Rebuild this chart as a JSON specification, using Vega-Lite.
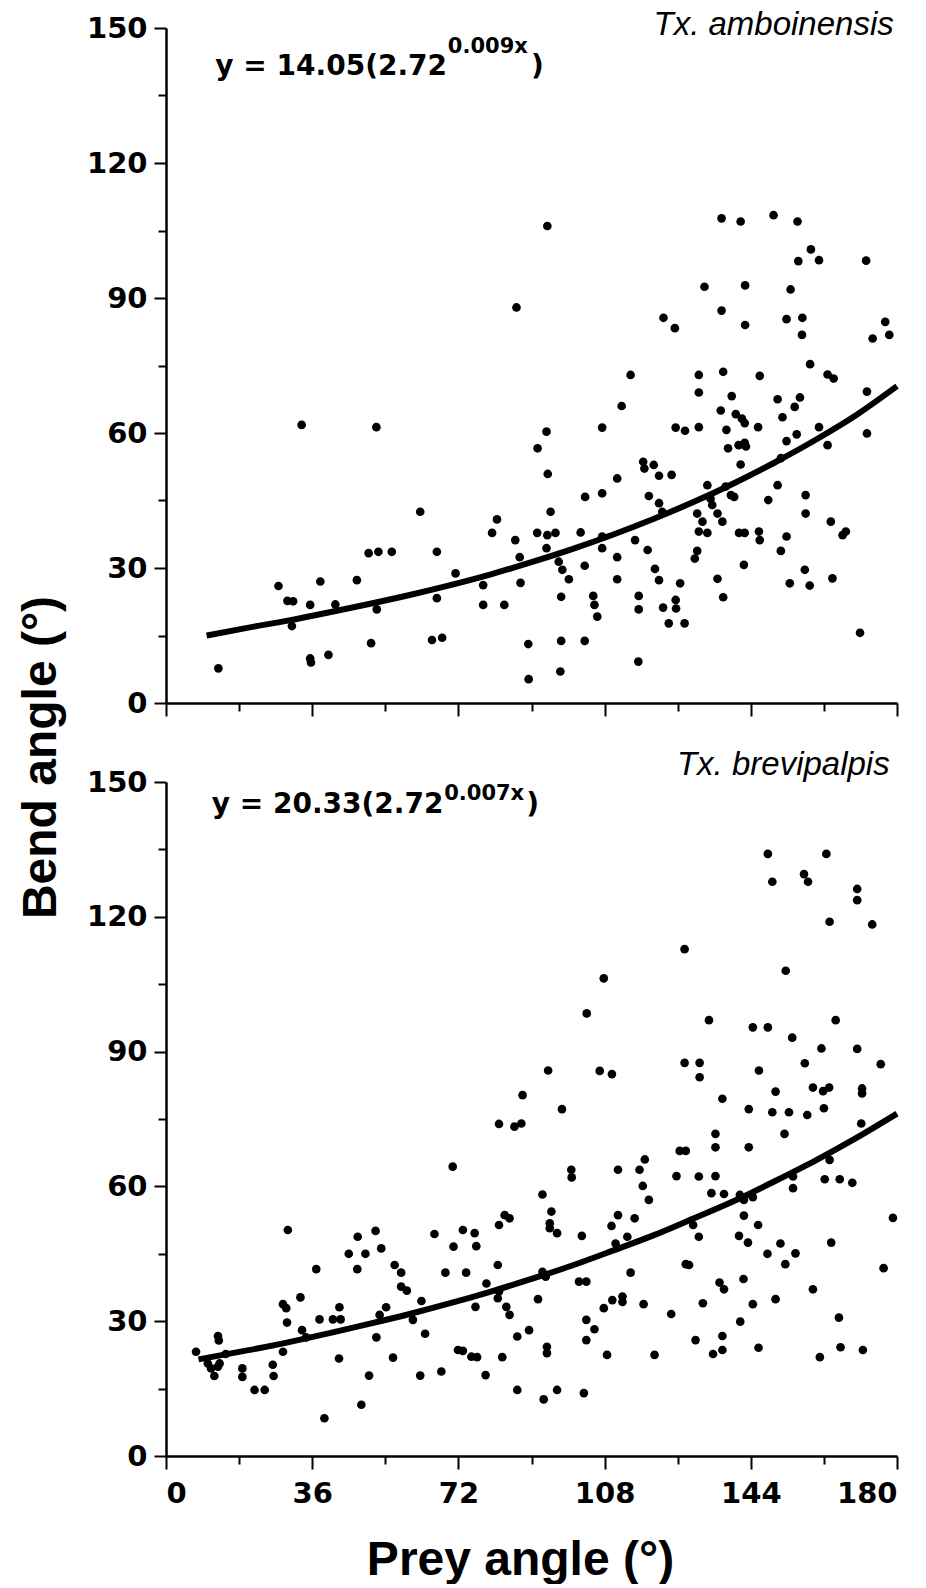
{
  "$schema": "https://vega.github.io/schema/vega-lite/v6.json",
  "background": "white",
  "padding": {"left": 17, "top": 9, "right": 0, "bottom": 0},
  "bounds": "flush",
  "spacing": 79,
  "datasets": {
    "amb": [
      {"x":33.4,"y":61.8},{"x":51.8,"y":61.3},{"x":62.6,"y":42.5},{"x":49.9,"y":33.3},{"x":52.3,"y":33.6},{"x":55.6,"y":33.6},{"x":66.7,"y":33.6},{"x":71.3,"y":28.8},{"x":27.7,"y":26.0},{"x":38.0,"y":27.0},{"x":47.0,"y":27.3},{"x":29.9,"y":22.7},{"x":31.3,"y":22.6},{"x":35.5,"y":21.8},{"x":41.7,"y":21.9},{"x":31.0,"y":17.1},{"x":51.9,"y":20.8},{"x":66.7,"y":23.3},{"x":65.5,"y":14.0},{"x":68.0,"y":14.5},{"x":50.5,"y":13.3},{"x":35.5,"y":9.9},{"x":35.7,"y":9.0},{"x":40.0,"y":10.7},{"x":12.9,"y":7.7},
      {"x":93.9,"y":106.0},{"x":86.3,"y":87.9},{"x":136.8,"y":107.7},{"x":141.5,"y":107.0},{"x":149.6,"y":108.4},{"x":155.5,"y":107.0},{"x":158.8,"y":100.8},{"x":155.7,"y":98.2},{"x":160.8,"y":98.4},{"x":172.4,"y":98.3},{"x":132.6,"y":92.5},{"x":142.6,"y":92.8},{"x":153.8,"y":91.9},{"x":136.8,"y":87.2},{"x":122.5,"y":85.6},{"x":125.3,"y":83.3},{"x":142.6,"y":84.0},{"x":152.8,"y":85.3},{"x":156.7,"y":85.6},{"x":156.6,"y":81.8},{"x":177.1,"y":84.7},{"x":174.0,"y":81.0},{"x":178.1,"y":81.8},
      {"x":114.4,"y":72.9},{"x":131.2,"y":72.9},{"x":137.2,"y":73.6},{"x":146.2,"y":72.7},{"x":158.6,"y":75.3},{"x":162.9,"y":73.0},{"x":164.4,"y":72.1},{"x":172.6,"y":69.2},{"x":131.2,"y":69.0},{"x":139.3,"y":68.2},{"x":112.2,"y":66.0},{"x":136.6,"y":65.0},{"x":140.3,"y":64.2},{"x":141.8,"y":63.2},{"x":142.5,"y":62.2},{"x":150.6,"y":67.5},{"x":156.1,"y":67.9},{"x":154.8,"y":65.8},{"x":151.8,"y":63.5},{"x":145.8,"y":61.3},{"x":138.0,"y":60.7},{"x":131.2,"y":61.3},{"x":125.5,"y":61.2},{"x":127.8,"y":60.5},{"x":107.4,"y":61.2},{"x":93.7,"y":60.3},{"x":91.5,"y":56.6},{"x":94.0,"y":50.9},{"x":160.8,"y":61.3},{"x":155.3,"y":59.7},{"x":152.8,"y":58.2},{"x":162.9,"y":57.3},{"x":172.6,"y":59.9},{"x":138.4,"y":56.6},{"x":141.0,"y":57.3},{"x":142.5,"y":57.8},{"x":142.8,"y":57.0},{"x":141.5,"y":53.0},{"x":151.4,"y":54.4},{"x":117.5,"y":53.6},{"x":117.8,"y":52.1},{"x":120.1,"y":52.9},{"x":121.4,"y":50.5},{"x":124.5,"y":50.7},{"x":111.1,"y":49.9},{"x":103.2,"y":45.8},{"x":107.4,"y":46.6},{"x":118.9,"y":46.0},{"x":121.4,"y":44.4},{"x":122.2,"y":42.5},{"x":133.3,"y":48.4},{"x":137.8,"y":48.1},{"x":139.1,"y":46.2},{"x":139.9,"y":45.8},{"x":134.1,"y":45.4},{"x":134.5,"y":44.0},{"x":135.8,"y":42.1},{"x":137.0,"y":40.3},{"x":130.8,"y":42.1},{"x":132.1,"y":40.3},{"x":131.2,"y":38.1},{"x":133.3,"y":37.8},{"x":130.8,"y":33.8},{"x":130.2,"y":32.1},{"x":150.6,"y":48.4},{"x":148.3,"y":45.1},{"x":157.5,"y":46.2},{"x":157.5,"y":42.1},{"x":163.7,"y":40.3},{"x":166.6,"y":37.3},{"x":167.4,"y":38.1},{"x":141.1,"y":37.8},{"x":142.5,"y":37.8},{"x":146.0,"y":38.1},{"x":146.2,"y":36.2},{"x":152.8,"y":37.0},{"x":151.4,"y":33.8},{"x":142.3,"y":30.7},{"x":157.3,"y":29.6},{"x":158.5,"y":26.1},{"x":153.6,"y":26.6},{"x":164.1,"y":27.7},{"x":135.8,"y":27.6},{"x":137.2,"y":23.5},{"x":170.9,"y":15.6},{"x":115.5,"y":36.2},{"x":118.6,"y":34.0},{"x":120.4,"y":29.8},{"x":121.4,"y":27.3},{"x":126.6,"y":26.6},{"x":125.5,"y":22.9},{"x":125.6,"y":21.0},{"x":122.4,"y":21.2},{"x":123.8,"y":17.7},{"x":127.7,"y":17.7},{"x":116.4,"y":23.8},{"x":116.4,"y":20.8},{"x":116.3,"y":9.2},{"x":111.1,"y":32.4},{"x":111.1,"y":27.5},{"x":107.4,"y":37.0},{"x":107.4,"y":34.4},{"x":102.1,"y":37.9},{"x":103.1,"y":30.5},{"x":105.2,"y":23.8},{"x":105.5,"y":21.8},{"x":106.2,"y":19.2},{"x":103.1,"y":13.8},{"x":97.3,"y":13.8},{"x":97.1,"y":7.0},{"x":89.2,"y":13.1},{"x":89.3,"y":5.3},{"x":97.3,"y":23.6},{"x":99.2,"y":27.5},{"x":96.7,"y":31.4},{"x":97.6,"y":29.6},{"x":94.7,"y":42.5},{"x":91.4,"y":37.8},{"x":93.9,"y":37.3},{"x":95.9,"y":37.8},{"x":93.7,"y":34.4},{"x":87.1,"y":32.4},{"x":87.3,"y":26.7},{"x":86.0,"y":36.2},{"x":80.3,"y":37.8},{"x":81.5,"y":40.8},{"x":78.1,"y":26.2},{"x":78.1,"y":21.8},{"x":83.3,"y":21.8}
    ],
    "ambfit": [
      {"x":10,"y":15.0},{"x":20,"y":16.7},{"x":30,"y":18.3},{"x":40,"y":20.1},{"x":50,"y":22.0},{"x":60,"y":24.0},{"x":70,"y":26.2},{"x":80,"y":28.6},{"x":90,"y":31.3},{"x":100,"y":34.2},{"x":110,"y":37.4},{"x":120,"y":40.9},{"x":130,"y":44.7},{"x":140,"y":48.9},{"x":150,"y":53.5},{"x":160,"y":58.5},{"x":170,"y":64.0},{"x":180,"y":70.4}
    ],
    "brev": [
      {"x":148.2,"y":134.0},{"x":162.6,"y":134.0},{"x":149.3,"y":127.8},{"x":157.1,"y":129.5},{"x":158.1,"y":127.8},{"x":170.2,"y":126.2},{"x":170.2,"y":123.7},{"x":163.4,"y":118.9},{"x":173.9,"y":118.3},{"x":127.7,"y":112.8},{"x":152.6,"y":108.0},{"x":107.8,"y":106.3},{"x":103.6,"y":98.5},{"x":133.7,"y":97.0},{"x":144.5,"y":95.4},{"x":148.2,"y":95.4},{"x":154.2,"y":93.1},{"x":164.9,"y":97.0},{"x":161.4,"y":90.7},{"x":170.2,"y":90.6},{"x":176.0,"y":87.2},{"x":127.7,"y":87.5},{"x":131.4,"y":87.5},{"x":131.4,"y":84.3},{"x":146.0,"y":85.8},{"x":157.3,"y":87.4},{"x":94.1,"y":85.8},{"x":106.8,"y":85.7},{"x":109.8,"y":85.0},{"x":87.8,"y":80.3},{"x":97.5,"y":77.2},{"x":137.0,"y":79.5},{"x":143.5,"y":77.2},{"x":150.1,"y":81.1},{"x":149.3,"y":76.5},{"x":153.4,"y":76.5},{"x":157.9,"y":75.9},{"x":162.0,"y":77.4},{"x":159.3,"y":82.0},{"x":161.8,"y":81.2},{"x":163.3,"y":82.0},{"x":171.4,"y":81.8},{"x":171.4,"y":80.7},
      {"x":82.0,"y":73.9},{"x":85.8,"y":73.3},{"x":87.5,"y":74.0},{"x":171.2,"y":74.0},{"x":152.3,"y":71.7},{"x":135.3,"y":71.7},{"x":135.3,"y":68.7},{"x":143.5,"y":68.7},{"x":126.5,"y":67.9},{"x":128.0,"y":67.9},{"x":70.6,"y":64.4},{"x":99.8,"y":63.7},{"x":99.9,"y":62.0},{"x":111.3,"y":63.7},{"x":117.9,"y":66.0},{"x":116.6,"y":63.7},{"x":125.7,"y":62.3},{"x":131.2,"y":62.2},{"x":135.3,"y":62.3},{"x":162.2,"y":61.6},{"x":165.9,"y":61.6},{"x":169.0,"y":60.8},{"x":163.4,"y":65.9},{"x":154.4,"y":62.2},{"x":154.4,"y":59.6},{"x":117.4,"y":60.1},{"x":118.9,"y":57.0},{"x":134.3,"y":58.5},{"x":137.4,"y":58.3},{"x":141.3,"y":58.1},{"x":142.3,"y":57.0},{"x":144.5,"y":57.6},{"x":92.7,"y":58.2},{"x":142.3,"y":53.5},{"x":145.8,"y":51.4},{"x":179.0,"y":53.0},{"x":83.4,"y":53.6},{"x":84.6,"y":52.9},{"x":82.0,"y":51.4},{"x":94.9,"y":54.4},{"x":94.5,"y":51.8},{"x":94.5,"y":50.7},{"x":96.3,"y":49.6},{"x":102.4,"y":49.0},{"x":111.3,"y":53.6},{"x":109.7,"y":51.2},{"x":115.4,"y":52.9},{"x":113.6,"y":48.8},{"x":110.7,"y":47.3},{"x":73.1,"y":50.3},{"x":76.0,"y":49.6},{"x":76.4,"y":46.7},{"x":70.8,"y":46.6},{"x":129.8,"y":51.4},{"x":131.2,"y":48.8},{"x":141.1,"y":49.0},{"x":143.3,"y":47.5},{"x":151.3,"y":47.3},{"x":148.1,"y":45.0},{"x":155.0,"y":45.1},{"x":152.5,"y":42.7},{"x":163.8,"y":47.5},{"x":176.7,"y":41.8},{"x":128.0,"y":42.7},{"x":128.8,"y":42.5},{"x":81.7,"y":42.5},{"x":68.8,"y":40.8},{"x":73.9,"y":40.8},{"x":92.7,"y":41.0},{"x":93.5,"y":39.9},{"x":78.9,"y":38.4},{"x":82.0,"y":36.6},{"x":81.7,"y":35.1},{"x":101.7,"y":38.8},{"x":103.5,"y":38.8},{"x":114.4,"y":40.8},{"x":91.6,"y":34.9},{"x":76.2,"y":33.2},{"x":83.8,"y":33.2},{"x":84.6,"y":31.4},{"x":107.8,"y":32.9},{"x":109.9,"y":34.7},{"x":112.4,"y":35.5},{"x":112.4,"y":34.3},{"x":117.6,"y":33.8},{"x":124.4,"y":31.6},{"x":132.2,"y":34.0},{"x":136.3,"y":38.6},{"x":137.4,"y":37.1},{"x":142.2,"y":39.4},{"x":144.5,"y":33.8},{"x":150.1,"y":34.9},{"x":159.3,"y":37.1},{"x":165.7,"y":30.8},{"x":141.4,"y":29.9},{"x":103.5,"y":30.3},{"x":105.5,"y":28.2},{"x":103.5,"y":25.8},{"x":89.4,"y":28.0},{"x":86.5,"y":26.6},{"x":93.8,"y":24.3},{"x":93.8,"y":22.9},{"x":71.9,"y":23.6},{"x":73.1,"y":23.4},{"x":75.2,"y":22.1},{"x":76.6,"y":22.0},{"x":82.8,"y":22.0},{"x":78.7,"y":18.0},{"x":67.8,"y":18.8},{"x":86.5,"y":14.7},{"x":93.0,"y":12.6},{"x":96.3,"y":14.7},{"x":102.9,"y":14.0},{"x":108.6,"y":22.5},{"x":120.3,"y":22.5},{"x":130.4,"y":25.8},{"x":137.0,"y":26.7},{"x":137.0,"y":23.6},{"x":134.7,"y":22.7},{"x":145.9,"y":24.1},{"x":161.0,"y":22.0},{"x":166.1,"y":24.2},{"x":171.6,"y":23.6},
      {"x":30.0,"y":50.3},{"x":51.6,"y":50.1},{"x":66.1,"y":49.4},{"x":47.2,"y":48.8},{"x":53.0,"y":46.2},{"x":45.0,"y":45.0},{"x":49.1,"y":45.0},{"x":37.0,"y":41.6},{"x":47.1,"y":41.6},{"x":56.3,"y":42.5},{"x":57.9,"y":40.8},{"x":57.9,"y":37.7},{"x":59.3,"y":36.8},{"x":62.9,"y":34.5},{"x":28.8,"y":33.8},{"x":29.6,"y":32.9},{"x":33.1,"y":35.3},{"x":42.7,"y":33.1},{"x":43.0,"y":30.4},{"x":37.8,"y":30.4},{"x":41.1,"y":30.4},{"x":54.2,"y":33.1},{"x":52.6,"y":31.4},{"x":60.8,"y":30.3},{"x":29.8,"y":29.7},{"x":33.5,"y":28.0},{"x":63.8,"y":27.2},{"x":51.8,"y":26.4},{"x":34.5,"y":26.4},{"x":42.6,"y":21.7},{"x":55.9,"y":21.9},{"x":50.0,"y":17.9},{"x":62.6,"y":17.9},{"x":48.1,"y":11.4},{"x":39.0,"y":8.4},{"x":7.4,"y":23.2},{"x":10.3,"y":20.6},{"x":11.1,"y":19.5},{"x":11.9,"y":17.8},{"x":12.8,"y":19.9},{"x":13.2,"y":20.6},{"x":12.8,"y":26.7},{"x":13.0,"y":25.7},{"x":14.7,"y":22.7},{"x":18.8,"y":19.5},{"x":18.8,"y":17.6},{"x":21.8,"y":14.7},{"x":24.3,"y":14.7},{"x":26.3,"y":20.3},{"x":26.5,"y":17.8},{"x":28.8,"y":23.2}
    ],
    "brevfit": [
      {"x":8,"y":21.5},{"x":20,"y":23.5},{"x":30,"y":25.3},{"x":40,"y":27.3},{"x":50,"y":29.4},{"x":60,"y":31.6},{"x":70,"y":34.0},{"x":80,"y":36.6},{"x":90,"y":39.4},{"x":100,"y":42.4},{"x":110,"y":45.7},{"x":120,"y":49.1},{"x":130,"y":52.9},{"x":140,"y":56.8},{"x":150,"y":61.2},{"x":160,"y":65.8},{"x":170,"y":70.8},{"x":180,"y":76.2}
    ],
    "one": [{"n": 1}]
  },
  "vconcat": [
    {
      "width": 731,
      "height": 675,
      "layer": [
        {"data": {"name": "amb"}, "mark": {"type": "circle", "size": 75, "color": "black", "opacity": 1},
          "encoding": {
            "x": {"field": "x", "type": "quantitative", "scale": {"domain": [0, 180], "nice": false, "zero": false},
              "axis": {"title": null, "labels": false, "values": [0,18,36,54,72,90,108,126,144,162,180],
                "tickSize": {"condition": {"test": "datum.value % 36 === 0", "value": 13}, "value": 8}}},
            "y": {"field": "y", "type": "quantitative", "scale": {"domain": [0, 150], "nice": false, "zero": false},
              "axis": {"title": "Bend angle (°)", "values": [0,15,30,45,60,75,90,105,120,135,150],
                "labelExpr": "datum.value % 30 === 0 ? datum.label : ''",
                "tickSize": {"condition": {"test": "datum.value % 30 === 0", "value": 12}, "value": 8},
                "labelPadding": 7,
                "titleX": -111, "titleY": 729, "titleAngle": -90, "titleAlign": "center", "titleBaseline": "alphabetic"}}
          }},
        {"data": {"name": "ambfit"}, "mark": {"type": "line", "color": "black", "strokeWidth": 6, "interpolate": "monotone"},
          "encoding": {"x": {"field": "x", "type": "quantitative"}, "y": {"field": "y", "type": "quantitative"}}},
        {"data": {"name": "one"}, "mark": {"type": "text", "text": "y = 14.05(2.72", "align": "right", "baseline": "alphabetic", "font": "DejaVu Sans", "fontWeight": "bold", "fontSize": 28, "fill": "black"},
          "encoding": {"x": {"datum": 69.2, "type": "quantitative"}, "y": {"datum": 139.6, "type": "quantitative"}}},
        {"data": {"name": "one"}, "mark": {"type": "text", "text": "0.009x", "align": "left", "baseline": "alphabetic", "font": "DejaVu Sans", "fontWeight": "bold", "fontSize": 21, "fill": "black"},
          "encoding": {"x": {"datum": 69.4, "type": "quantitative"}, "y": {"datum": 144.4, "type": "quantitative"}}},
        {"data": {"name": "one"}, "mark": {"type": "text", "text": ")", "align": "left", "baseline": "alphabetic", "font": "DejaVu Sans", "fontWeight": "bold", "fontSize": 28, "fill": "black"},
          "encoding": {"x": {"datum": 89.9, "type": "quantitative"}, "y": {"datum": 139.6, "type": "quantitative"}}},
        {"data": {"name": "one"}, "mark": {"type": "text", "text": "Tx. amboinensis", "align": "right", "baseline": "alphabetic", "font": "Liberation Sans", "fontStyle": "italic", "fontSize": 33, "fill": "black"},
          "encoding": {"x": {"datum": 179.2, "type": "quantitative"}, "y": {"datum": 148.4, "type": "quantitative"}}}
      ]
    },
    {
      "width": 731,
      "height": 674,
      "layer": [
        {"data": {"name": "brev"}, "mark": {"type": "circle", "size": 75, "color": "black", "opacity": 1},
          "encoding": {
            "x": {"field": "x", "type": "quantitative", "scale": {"domain": [0, 180], "nice": false, "zero": false},
              "axis": {"title": "Prey angle (°)", "values": [0,18,36,54,72,90,108,126,144,162,180],
                "labelExpr": "datum.value % 36 === 0 ? datum.label : ''",
                "tickSize": {"condition": {"test": "datum.value % 36 === 0", "value": 13}, "value": 8},
                "labelPadding": 10,
                "titleX": 354, "titleY": 118, "titleAlign": "center", "titleBaseline": "alphabetic"}},
            "y": {"field": "y", "type": "quantitative", "scale": {"domain": [0, 150], "nice": false, "zero": false},
              "axis": {"title": null, "values": [0,15,30,45,60,75,90,105,120,135,150],
                "labelExpr": "datum.value % 30 === 0 ? datum.label : ''",
                "tickSize": {"condition": {"test": "datum.value % 30 === 0", "value": 12}, "value": 8},
                "labelPadding": 7}}
          }},
        {"data": {"name": "brevfit"}, "mark": {"type": "line", "color": "black", "strokeWidth": 6, "interpolate": "monotone"},
          "encoding": {"x": {"field": "x", "type": "quantitative"}, "y": {"field": "y", "type": "quantitative"}}},
        {"data": {"name": "one"}, "mark": {"type": "text", "text": "y = 20.33(2.72", "align": "right", "baseline": "alphabetic", "font": "DejaVu Sans", "fontWeight": "bold", "fontSize": 28, "fill": "black"},
          "encoding": {"x": {"datum": 68.3, "type": "quantitative"}, "y": {"datum": 143.1, "type": "quantitative"}}},
        {"data": {"name": "one"}, "mark": {"type": "text", "text": "0.007x", "align": "left", "baseline": "alphabetic", "font": "DejaVu Sans", "fontWeight": "bold", "fontSize": 21, "fill": "black"},
          "encoding": {"x": {"datum": 68.5, "type": "quantitative"}, "y": {"datum": 146.0, "type": "quantitative"}}},
        {"data": {"name": "one"}, "mark": {"type": "text", "text": ")", "align": "left", "baseline": "alphabetic", "font": "DejaVu Sans", "fontWeight": "bold", "fontSize": 28, "fill": "black"},
          "encoding": {"x": {"datum": 88.7, "type": "quantitative"}, "y": {"datum": 143.1, "type": "quantitative"}}},
        {"data": {"name": "one"}, "mark": {"type": "text", "text": "Tx. brevipalpis", "align": "right", "baseline": "alphabetic", "font": "Liberation Sans", "fontStyle": "italic", "fontSize": 33, "fill": "black"},
          "encoding": {"x": {"datum": 178.2, "type": "quantitative"}, "y": {"datum": 151.6, "type": "quantitative"}}}
      ]
    }
  ],
  "config": {
    "view": {"stroke": null},
    "axis": {
      "grid": false,
      "domainColor": "black", "domainWidth": 2.5,
      "tickColor": "black", "tickWidth": 2,
      "labelFont": "DejaVu Sans", "labelFontWeight": "bold", "labelFontSize": 29, "labelColor": "black",
      "titleFont": "Liberation Sans", "titleFontWeight": "bold", "titleFontSize": 48, "titleColor": "black"
    }
  }
}
